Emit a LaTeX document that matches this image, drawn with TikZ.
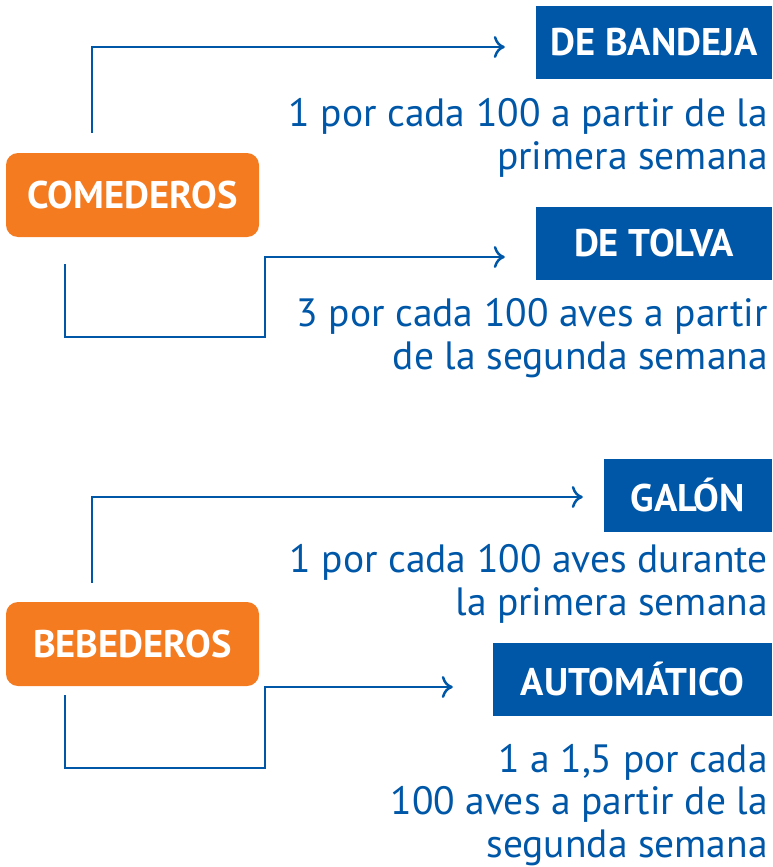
\documentclass[tikz,border=0pt]{standalone}
\usepackage{fontspec}
\setmainfont{PT Sans}
\usetikzlibrary{arrows.meta}
\definecolor{azul}{HTML}{0057A8}
\definecolor{naranja}{HTML}{F47B20}
\tikzset{
  grupo/.style={fill=naranja,rounded corners=12pt,text=white,inner sep=0pt,
    minimum width=253pt,minimum height=84pt,font=\fontsize{38.5}{44}\selectfont\bfseries},
  tipo/.style={fill=azul,text=white,inner sep=0pt,minimum height=73pt,
    font=\fontsize{38.5}{44}\selectfont\bfseries},
  nota/.style={text=azul,align=right,anchor=base east,inner sep=0pt,
    font=\fontsize{39.5}{42.5}\selectfont},
  enlace/.style={draw=azul,line width=2.5pt,-{To[length=11pt,width=22pt]}}
}
\begin{document}
\begin{tikzpicture}[x=1pt,y=-1pt]
      \useasboundingbox (0,0) rectangle (772,867);
      \node[grupo] (comederos) at (132.5,195) {COMEDEROS};
      \node[grupo] (bebederos) at (132.5,644) {BEBEDEROS};
      \node[tipo,minimum width=236pt] (bandeja) at (654,42.5) {DE BANDEJA};
      \node[tipo,minimum width=236pt] (tolva) at (654,243) {DE TOLVA};
      \node[tipo,minimum width=168pt] (galon) at (688,495) {GALÓN};
      \node[tipo,minimum width=279pt] (automatico) at (632.5,679.5) {AUTOMÁTICO};
      \node[nota] (notabandeja) at (768,169) {1 por cada 100 a partir de la\\primera semana};
      \node[nota] (notatolva) at (768,369) {3 por cada 100 aves a partir\\de la segunda semana};
      \node[nota] (notagalon) at (768,615) {1 por cada 100 aves durante\\la primera semana};
      \node[nota] (notaautomatico) at (768,857) {1 a 1,5 por cada\\100 aves a partir de la\\segunda semana};
      \begin{scope}[enlace]
        \draw ([xshift=-40.5pt,yshift=20pt]comederos.north) |- ([xshift=-31pt,yshift=-4.5pt]bandeja.west);
        \draw ([xshift=-67.5pt,yshift=-27pt]comederos.south) |- ++(200,73) |- ([xshift=-31pt,yshift=-14pt]tolva.west);
        \draw ([xshift=-40.5pt,yshift=19pt]bebederos.north) |- ([xshift=-21pt,yshift=-2pt]galon.west);
        \draw ([xshift=-67.5pt,yshift=-9pt]bebederos.south) |- ++(200,73) |- ([xshift=-40pt,yshift=-7.5pt]automatico.west);
      \end{scope}
    \end{tikzpicture}
\end{document}
